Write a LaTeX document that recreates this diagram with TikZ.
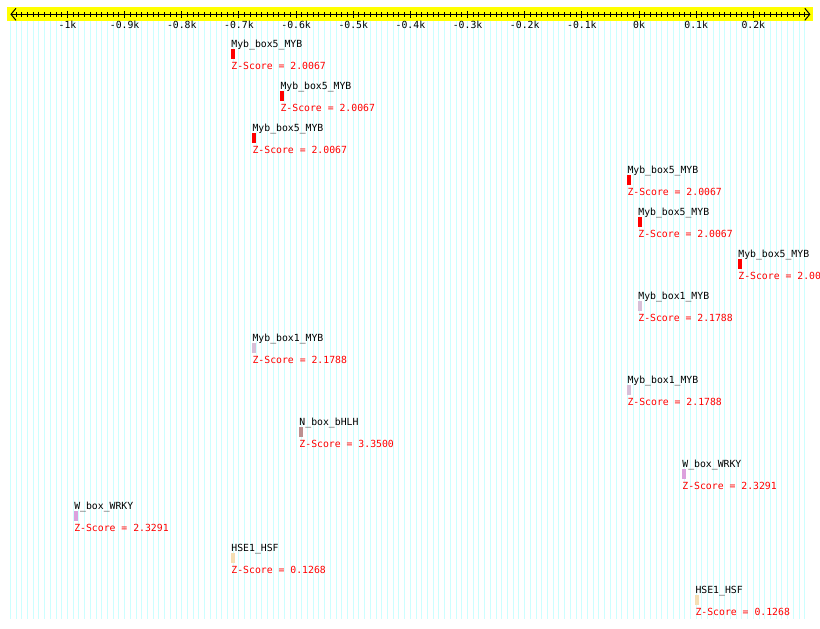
\documentclass[tikz,border=0pt]{standalone}
\usepackage{fontspec}
\setmonofont{DejaVu Sans Mono}
\usetikzlibrary{arrows.meta}
\definecolor{rulerbg}{HTML}{FFFF00}
\definecolor{gridcyan}{HTML}{CCFFFF}
\definecolor{zred}{HTML}{FF0000}
\definecolor{mybfive}{HTML}{FF0000}
\definecolor{mybone}{HTML}{D8BFD8}
\definecolor{nbox}{HTML}{BC8F8F}
\definecolor{wbox}{HTML}{DDA0DD}
\definecolor{hsebox}{HTML}{F5DEB3}
\tikzset{
  every picture/.style={font=\ttfamily\fontsize{9.8}{11}\selectfont, line width=1pt},
  site/.style={anchor=base west, inner sep=0pt},
  zscore/.style={site, text=zred},
  ticklabel/.style={anchor=base, inner sep=0pt},
  axisarrow/.style={{Straight Barb[length=5pt, width=12pt]}-{Straight Barb[length=5pt, width=12pt]}},
}

\begin{document}
\begin{tikzpicture}[x=1pt, y=-1pt]
  \clip (0,0) rectangle (820,629);
  \fill[white] (0,0) rectangle (820,629);
  % ruler band
  \fill[rulerbg] (7,7) rectangle (813,21);
  \begin{scope}[xshift=639pt, x=0.5715pt]
    % grid
    \foreach \u in {-1100,-1090,...,290}
      \draw[gridcyan] (\u,21) -- (\u,619);
    % axis
    \draw[axisarrow] (-1100,14.3) -- (300,14.3);
    \foreach \u in {-1090,-1080,...,290}
      \draw (\u,12.3) -- (\u,16.7);
    \foreach \u/\l [count=\k] in {-1000/-1k,-900/-0.9k,-800/-0.8k,-700/-0.7k,-600/-0.6k,-500/-0.5k,-400/-0.4k,-300/-0.3k,-200/-0.2k,-100/-0.1k,0/0k,100/0.1k,200/0.2k} {
      \draw (\u,11) -- (\u,18);
      \node[ticklabel] (t\k) at (\u,28) {\l};
    }
    % sites
    \foreach \u/\name/\col/\z [count=\r from 0] in {
        -714/Myb\_box5\_MYB/mybfive/2.0067,
        -628/Myb\_box5\_MYB/mybfive/2.0067,
        -677/Myb\_box5\_MYB/mybfive/2.0067,
        -21/Myb\_box5\_MYB/mybfive/2.0067,
        -2/Myb\_box5\_MYB/mybfive/2.0067,
        173/Myb\_box5\_MYB/mybfive/2.0067,
        -2/Myb\_box1\_MYB/mybone/2.1788,
        -677/Myb\_box1\_MYB/mybone/2.1788,
        -21/Myb\_box1\_MYB/mybone/2.1788,
        -595/N\_box\_bHLH/nbox/3.3500,
        75/W\_box\_WRKY/wbox/2.3291,
        -989/W\_box\_WRKY/wbox/2.3291,
        -714/HSE1\_HSF/hsebox/0.1268,
        98/HSE1\_HSF/hsebox/0.1268} {
      \pgfmathsetmacro\yy{47+42*\r}
      \node[site] (s\r) at (\u,\yy) {\name};
      \fill[\col] (\u,\yy+2) rectangle ++(7.5,10);
      \node[zscore] (z\r) at (\u,\yy+22) {Z-Score = \z};
    }
  \end{scope}
\end{tikzpicture}
\end{document}
